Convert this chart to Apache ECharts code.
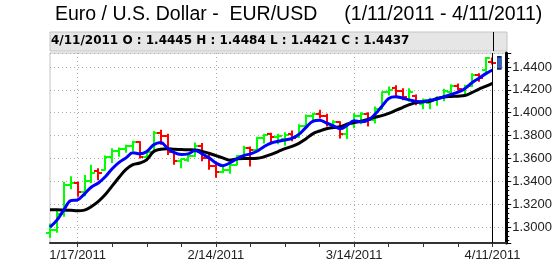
<!DOCTYPE html>
<html>
<head>
<meta charset="utf-8">
<script src="https://cdn.jsdelivr.net/npm/echarts@6/dist/echarts.min.js"></script>
<style>html,body{margin:0;padding:0;background:#fff;}#c{width:555px;height:264px;}</style>
</head>
<body>
<div id="c"></div>
<script>
const dates = ['1/11/2011','1/12/2011','1/13/2011','1/14/2011','1/17/2011','1/18/2011','1/19/2011','1/20/2011','1/21/2011',
'1/24/2011','1/25/2011','1/26/2011','1/27/2011','1/28/2011','1/31/2011','2/1/2011','2/2/2011','2/3/2011','2/4/2011',
'2/7/2011','2/8/2011','2/9/2011','2/10/2011','2/11/2011','2/14/2011','2/15/2011','2/16/2011','2/17/2011','2/18/2011',
'2/21/2011','2/22/2011','2/23/2011','2/24/2011','2/25/2011','2/28/2011','3/1/2011','3/2/2011','3/3/2011','3/4/2011',
'3/7/2011','3/8/2011','3/9/2011','3/10/2011','3/11/2011','3/14/2011','3/15/2011','3/16/2011','3/17/2011','3/18/2011',
'3/21/2011','3/22/2011','3/23/2011','3/24/2011','3/25/2011','3/28/2011','3/29/2011','3/30/2011','3/31/2011','4/1/2011',
'4/4/2011','4/5/2011','4/6/2011','4/7/2011','4/8/2011','4/11/2011'];
const opens = [1.2945,1.2975,1.3115,1.3370,1.3385,1.3310,1.3400,1.3490,1.3500,1.3610,1.3665,1.3685,1.3710,1.3745,1.3615,1.3655,1.3825,1.3800,1.3660,
1.3580,1.3590,1.3625,1.3710,1.3600,1.3530,1.3480,1.3500,1.3545,1.3620,1.3695,1.3670,1.3775,1.3810,1.3785,1.3770,1.3810,1.3790,1.3885,1.3975,
1.3990,1.3975,1.3895,1.3920,1.3810,1.3905,1.3975,1.3990,1.3935,1.4035,1.4180,1.4215,1.4190,1.4120,1.4150,1.4080,1.4085,1.4110,1.4130,1.4185,
1.4235,1.4200,1.4230,1.4330,1.4370,1.4445];
const highs = [1.3030,1.3140,1.3395,1.3445,1.3395,1.3455,1.3545,1.3515,1.3625,1.3690,1.3695,1.3720,1.3755,1.3750,1.3665,1.3840,1.3850,1.3815,1.3665,
1.3600,1.3635,1.3740,1.3735,1.3645,1.3570,1.3540,1.3560,1.3630,1.3710,1.3705,1.3790,1.3815,1.3825,1.3815,1.3830,1.3845,1.3900,1.3985,1.4000,
1.4025,1.3990,1.3935,1.3925,1.3915,1.3995,1.4005,1.4005,1.4055,1.4185,1.4230,1.4240,1.4215,1.4215,1.4160,1.4125,1.4130,1.4145,1.4210,1.4250,
1.4255,1.4245,1.4345,1.4345,1.4488,1.4484];
const lows = [1.2905,1.2950,1.3090,1.3330,1.3265,1.3270,1.3385,1.3410,1.3495,1.3560,1.3615,1.3650,1.3665,1.3600,1.3575,1.3650,1.3720,1.3630,1.3545,
1.3515,1.3570,1.3615,1.3575,1.3500,1.3430,1.3470,1.3465,1.3540,1.3615,1.3530,1.3660,1.3730,1.3735,1.3725,1.3710,1.3750,1.3780,1.3860,1.3920,
1.3950,1.3880,1.3870,1.3775,1.3770,1.3865,1.3900,1.3880,1.3905,1.4030,1.4150,1.4140,1.4110,1.4095,1.4065,1.4030,1.4030,1.4060,1.4100,1.4160,
1.4195,1.4155,1.4225,1.4270,1.4355,1.4421];
const closes = [1.2975,1.3115,1.3370,1.3385,1.3310,1.3400,1.3475,1.3475,1.3610,1.3665,1.3685,1.3710,1.3745,1.3615,1.3655,1.3820,1.3800,1.3660,1.3580,
1.3595,1.3625,1.3710,1.3600,1.3530,1.3480,1.3500,1.3545,1.3620,1.3695,1.3670,1.3775,1.3805,1.3790,1.3795,1.3805,1.3780,1.3885,1.3975,1.3990,
1.3975,1.3905,1.3920,1.3810,1.3905,1.3975,1.3990,1.3935,1.4035,1.4180,1.4200,1.4190,1.4140,1.4180,1.4090,1.4110,1.4115,1.4130,1.4190,1.4235,
1.4210,1.4230,1.4330,1.4300,1.4475,1.4437];
const blueLine = [1.2998,1.3060,1.3150,1.3230,1.3238,1.3290,1.3350,1.3385,1.3440,1.3510,1.3565,1.3605,1.3650,1.3640,1.3660,1.3720,1.3740,1.3690,1.3650,
1.3635,1.3640,1.3670,1.3640,1.3605,1.3560,1.3537,1.3560,1.3595,1.3625,1.3640,1.3665,1.3705,1.3735,1.3750,1.3762,1.3775,1.3810,1.3870,1.3925,
1.3935,1.3910,1.3885,1.3860,1.3890,1.3930,1.3920,1.3935,1.3985,1.4055,1.4125,1.4140,1.4128,1.4112,1.4098,1.4096,1.4110,1.4120,1.4140,1.4160,
1.4180,1.4210,1.4260,1.4300,1.4340,1.4374];
const blackLine = [1.3150,1.3150,1.3148,1.3146,1.3142,1.3148,1.3180,1.3225,1.3285,1.3360,1.3435,1.3505,1.3545,1.3560,1.3590,1.3660,1.3680,1.3685,1.3680,
1.3678,1.3676,1.3674,1.3662,1.3645,1.3625,1.3605,1.3585,1.3595,1.3600,1.3600,1.3602,1.3615,1.3635,1.3660,1.3685,1.3705,1.3732,1.3770,1.3815,
1.3840,1.3860,1.3870,1.3878,1.3900,1.3915,1.3925,1.3942,1.3960,1.3975,1.3995,1.4020,1.4045,1.4070,1.4090,1.4096,1.4100,1.4125,1.4138,1.4142,
1.4145,1.4150,1.4175,1.4205,1.4230,1.4257];
const yTicks = ['1.3000','1.3200','1.3400','1.3600','1.3800','1.4000','1.4200','1.4400'];
const titleText = 'Euro / U.S. Dollar -  EUR/USD     (1/11/2011 - 4/11/2011)';

const categories = dates.concat([' ', '  ']);
const last = dates.length - 1;
const headerText = dates[last] + ' O : ' + opens[last].toFixed(4) + ' H : ' + highs[last].toFixed(4) +
  ' L : ' + lows[last].toFixed(4) + ' C : ' + closes[last].toFixed(4);
const ohlcData = dates.map((d, i) => [i, opens[i], highs[i], lows[i], closes[i]]);

const GREEN = '#00ff00', RED = '#ff0000';
function renderBar(params, api) {
  const i = api.value(0);
  const o = api.coord([i, api.value(1)]);
  const h = api.coord([i, api.value(2)]);
  const l = api.coord([i, api.value(3)]);
  const c = api.coord([i, api.value(4)]);
  const color = api.value(4) >= api.value(1) ? GREEN : RED;
  const x = Math.round(h[0]);
  const st = { stroke: color, lineWidth: 2 };
  return { type: 'group', children: [
    { type: 'line', shape: { x1: x, y1: h[1], x2: x, y2: l[1] }, style: st },
    { type: 'line', shape: { x1: x - 4, y1: Math.round(o[1]), x2: x, y2: Math.round(o[1]) }, style: st },
    { type: 'line', shape: { x1: x, y1: Math.round(c[1]), x2: x + 4, y2: Math.round(c[1]) }, style: st }
  ]};
}

const chart = echarts.init(document.getElementById('c'), null, { renderer: 'canvas' });
chart.setOption({
  animation: false,
  backgroundColor: '#fff',
  title: [
    { text: titleText, left: 55, top: 5, padding: 0,
      textStyle: { fontFamily: 'Liberation Sans, Arial', fontSize: 19.5, fontWeight: 'normal', color: '#000' } },
    { text: headerText, left: 51, top: 35, padding: 0,
      textStyle: { fontFamily: 'DejaVu Sans', fontSize: 12, fontWeight: 'bold', color: '#000' } }
  ],
  grid: [
    { left: 50, right: 48, top: 53, bottom: 21, show: true, borderColor: '#c4c4c4', borderWidth: 1, backgroundColor: '#fff' },
    { left: 50, right: 48, top: 32, height: 19, show: true, borderColor: '#c4c4c4', borderWidth: 1, backgroundColor: '#e6e6e6' }
  ],
  xAxis: [
    { type: 'category', gridIndex: 0, data: categories, boundaryGap: false,
      axisLine: { lineStyle: { color: '#333', width: 2 } },
      axisTick: { interval: (i) => i % 5 === 4 && i <= last, length: 4, lineStyle: { color: '#333' } },
      axisLabel: { interval: (i) => i % 20 === 4 && i <= last, fontFamily: 'Liberation Sans, Arial', fontSize: 13, color: '#222', margin: 6 },
      splitLine: { show: true, interval: (i) => i % 20 === 4 && i <= last, lineStyle: { color: '#aaa', type: [1, 3] } } },
    { type: 'category', gridIndex: 1, data: categories, boundaryGap: false, show: false }
  ],
  yAxis: [
    { type: 'value', gridIndex: 0, position: 'right', min: 1.2860, max: 1.45225, splitNumber: 8,
      axisLine: { show: true, lineStyle: { color: '#000', width: 3 } },
      axisTick: { show: true, length: 5, lineStyle: { color: '#000' } },
      minorTick: { show: true, splitNumber: 5, length: 3, lineStyle: { color: '#000' } },
      axisLabel: { showMinLabel: false, showMaxLabel: false, margin: 6,
        fontFamily: 'Liberation Sans, Arial', fontSize: 13, color: '#222',
        formatter: (v) => { const s = v.toFixed(4); return yTicks.indexOf(s) >= 0 ? s : ''; } },
      splitLine: { show: true, lineStyle: { color: '#aaa', type: [1, 3] } } },
    { type: 'value', gridIndex: 1, min: 0, max: 1, show: false }
  ],
  series: [
    { type: 'custom', xAxisIndex: 0, yAxisIndex: 0, data: ohlcData, renderItem: renderBar,
      encode: { x: 0, y: [1, 2, 3, 4] }, clip: false, z: 2 },
    { type: 'line', data: blackLine, smooth: 0.4, symbol: 'none', z: 3,
      lineStyle: { color: '#000', width: 3 } },
    { type: 'line', data: blueLine, smooth: 0.4, symbol: 'none', z: 4,
      lineStyle: { color: '#0000ff', width: 3 },
      markLine: { silent: true, symbol: 'none', label: { show: false },
        lineStyle: { color: '#000', width: 1, type: 'solid' }, data: [{ xAxis: last }] },
      markPoint: { silent: true, label: { show: false },
        data: [{ coord: [last + 1, closes[last]], symbol: 'rect', symbolSize: [4, 12],
          itemStyle: { color: '#2d5fc4', borderColor: '#0b2366', borderWidth: 1 } }] } },
    { type: 'line', xAxisIndex: 1, yAxisIndex: 1, data: [], z: 5,
      markLine: { silent: true, symbol: 'none', label: { show: false },
        lineStyle: { color: '#000', width: 1, type: 'solid' }, data: [{ xAxis: last }] } }
  ]
});
</script>
</body>
</html>
